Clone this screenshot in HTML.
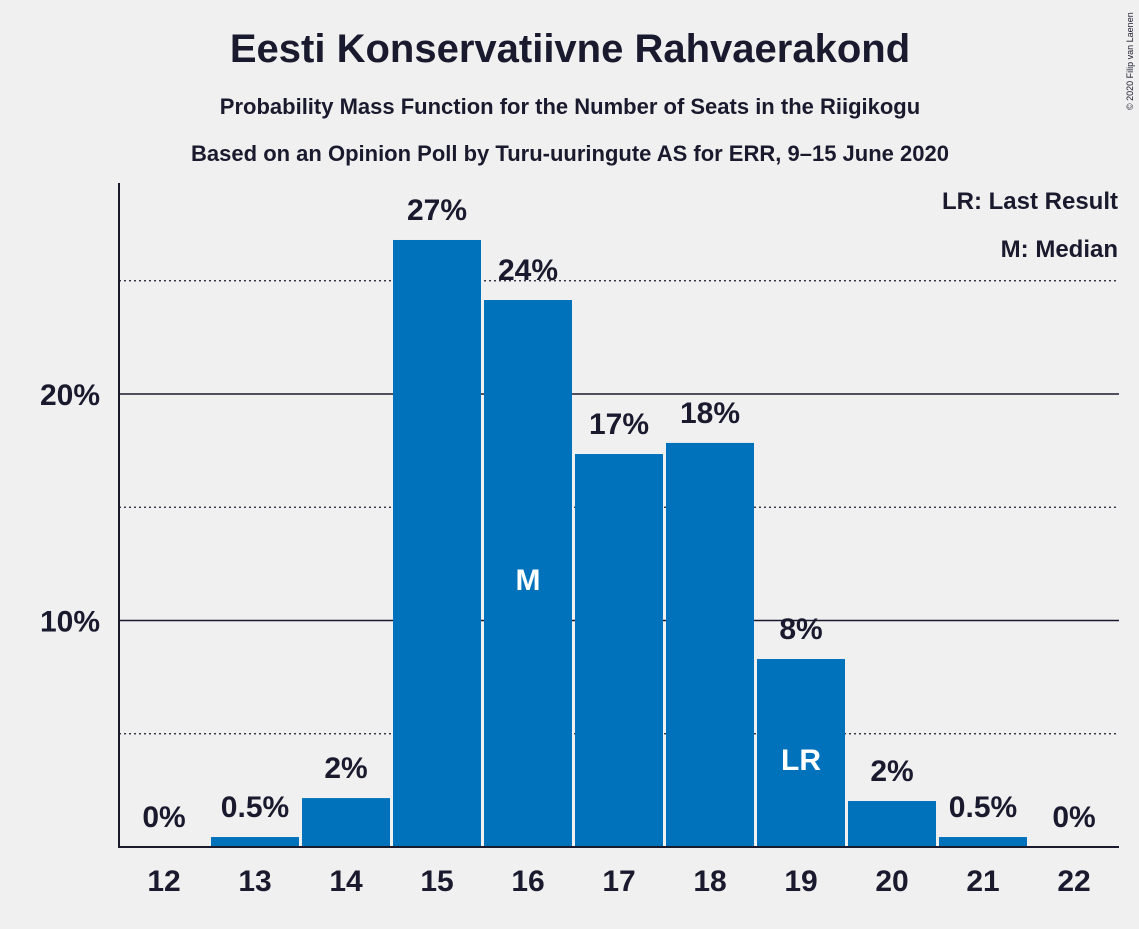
<!DOCTYPE html>
<html><head><meta charset="utf-8"><style>
body{margin:0;background:#f0f0f0;}
svg text{font-family:"Liberation Sans",sans-serif;font-weight:bold;fill:#1a1a2e;}
</style></head><body>
<svg width="1139" height="924" xmlns="http://www.w3.org/2000/svg">
<rect width="1139" height="924" fill="#f0f0f0"/>
<text x="570" y="62" font-size="40" text-anchor="middle">Eesti Konservatiivne Rahvaerakond</text>
<text x="570" y="114" font-size="22" text-anchor="middle">Probability Mass Function for the Number of Seats in the Riigikogu</text>
<text x="570" y="161" font-size="22" text-anchor="middle">Based on an Opinion Poll by Turu-uuringute AS for ERR, 9–15 June 2020</text>
<text x="1133" y="110" font-size="9" transform="rotate(-90 1133 110)" style="font-weight:normal">© 2020 Filip van Laenen</text>
<text x="1118" y="209" font-size="24" text-anchor="end">LR: Last Result</text>
<text x="1118" y="257" font-size="24" text-anchor="end">M: Median</text>
<g id="grid"></g><g id="bars"></g><g id="labels"></g>
<line x1="119" y1="183" x2="119" y2="848" stroke="#1a1a2e" stroke-width="2"/>
<line x1="118" y1="847" x2="1119" y2="847" stroke="#1a1a2e" stroke-width="2"/>
</svg>
<script>
const seats=[12,13,14,15,16,17,18,19,20,21,22];
const probs=[0,0.44,2.16,26.8,24.15,17.35,17.84,8.3,2.03,0.44,0];
const valueLabels=["0%","0.5%","2%","27%","24%","17%","18%","8%","2%","0.5%","0%"];
const markers={16:"M",19:"LR"};
const yTicks=[10,20];
const minorTicks=[5,15,25];
const NS="http://www.w3.org/2000/svg";
const y=v=>847-v*22.65;
const x=i=>118+i*91;
function mk(t,a,p){const e=document.createElementNS(NS,t);for(const k in a)e.setAttribute(k,a[k]);document.getElementById(p).appendChild(e);return e;}
minorTicks.forEach(v=>{const l=mk('line',{x1:119,x2:1119,y1:y(v),y2:y(v),stroke:'#1a1a2e','stroke-width':1.3,'stroke-dasharray':'2,3'},'grid');

});
yTicks.forEach(v=>{const l=mk('line',{x1:119,x2:1119,y1:y(v),y2:y(v),stroke:'#1a1a2e','stroke-width':1.5},'grid');


const t=mk('text',{x:100,y:y(v)+11,'font-size':30,'text-anchor':'end'},'grid');t.textContent=v+'%';

});
seats.forEach((s,i)=>{const cx=x(i)+46;
if(probs[i]>0){const r=mk('rect',{x:x(i)+2,y:y(probs[i]),width:88,height:847-y(probs[i]),fill:'#0072bc'},'bars');

}
const t=mk('text',{x:cx,y:y(probs[i])-20,'font-size':30,'text-anchor':'middle'},'labels');t.textContent=valueLabels[i];


const xl=mk('text',{x:cx,y:891,'font-size':30,'text-anchor':'middle'},'labels');xl.textContent=s;


if(markers[s]){const m=mk('text',{x:cx,y:s==16?590:770,'font-size':30,'text-anchor':'middle',style:'fill:#fff'},'labels');m.textContent=markers[s];

}
});
</script>
</body></html>
